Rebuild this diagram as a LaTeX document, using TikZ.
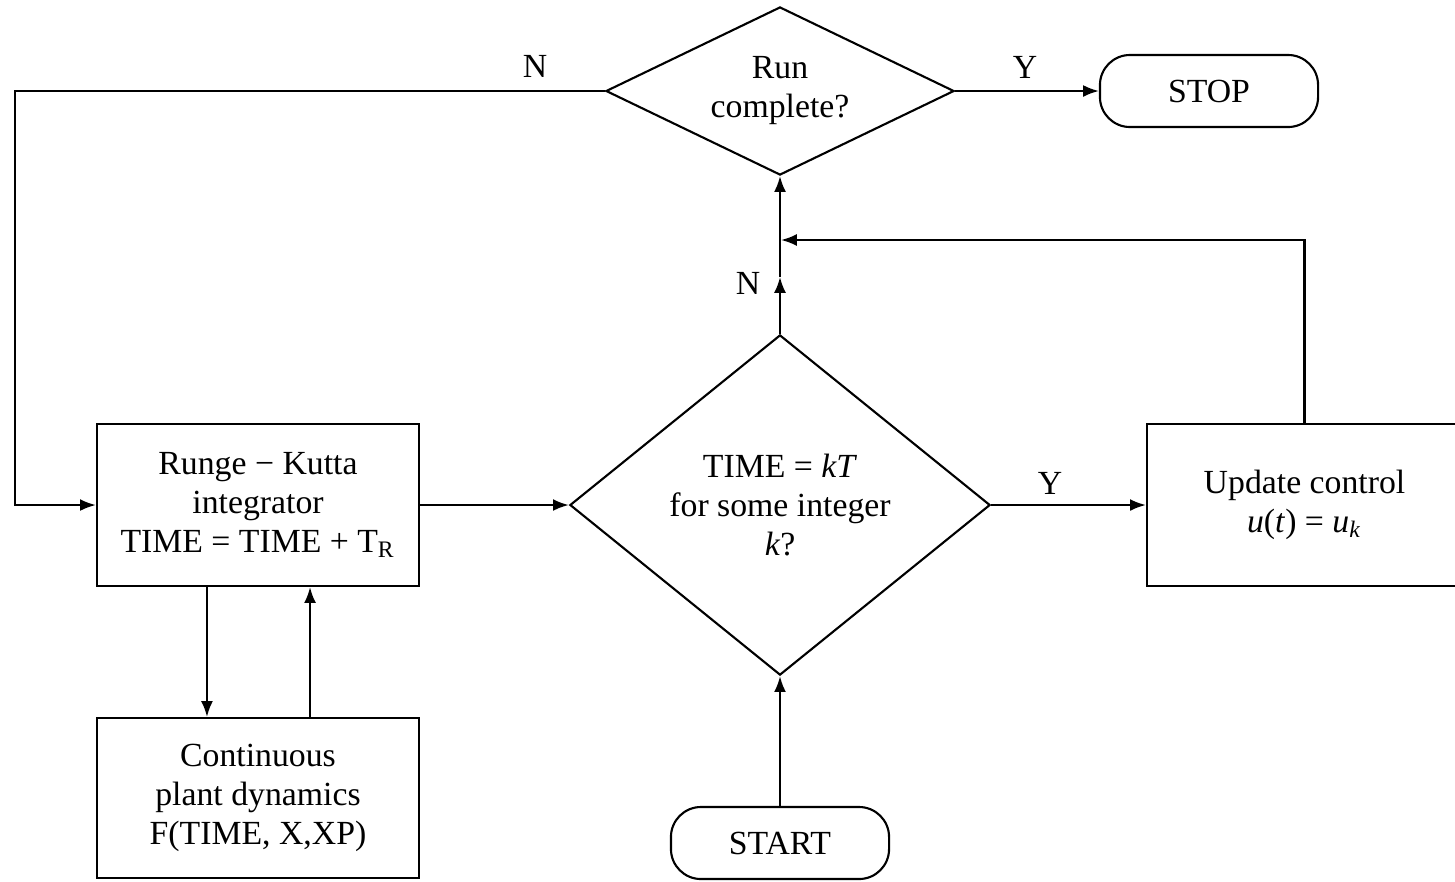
\documentclass[tikz,border=0pt]{standalone}
\usepackage{fontspec}
\setmainfont{Liberation Serif}
\usetikzlibrary{shapes.geometric,shapes.misc,arrows.meta}
\begin{document}
\begin{tikzpicture}[x=0.01cm,y=-0.01cm,
  every node/.style={font=\fontsize{9.6}{11.1}\selectfont},
  arr/.style={line width=0.6pt, -{Latex[length=4.5pt,width=3.4pt]}},
  box/.style={draw,line width=0.6pt,rectangle,inner sep=0pt,align=center},
  term/.style={draw,line width=0.6pt,rectangle,rounded corners=0.3cm,
               inner sep=0pt, minimum width=2.18cm, minimum height=0.72cm},
  dec/.style={draw,line width=0.6pt,diamond,inner sep=0pt,align=center},
  lbl/.style={inner sep=0pt}]
\useasboundingbox (0,0) rectangle (1455,881);
\clip (0,0) rectangle (1455,881);

\node[dec, minimum width=3.48cm, minimum height=1.68cm, aspect=2.07] (d1) at (780,91) {Run\\complete?};
\node[term] (stop) at (1209,91) {STOP};
\node[box, minimum width=3.22cm, minimum height=1.62cm] (rk) at (258,505)
  {Runge − Kutta\\integrator\\TIME = TIME + T\textsubscript{R}};
\node[dec, minimum width=4.2cm, minimum height=3.4cm, aspect=1.24] (d2) at (780,505)
  {TIME = \textit{kT}\\for some integer\\\textit{k}?};
\node[box, minimum width=3.15cm, minimum height=1.62cm] (upd) at (1304.5,505)
  {Update control\\\textit{u}(\textit{t}) = \textit{u}\textsubscript{\textit{k}}};
\node[box, minimum width=3.22cm, minimum height=1.60cm] (plant) at (258,798)
  {Continuous\\plant dynamics\\F(TIME, X,XP)};
\node[term] (start) at (780,843) {START};

\coordinate (lx) at (15,505);
\coordinate (mid) at (780,277);
\coordinate (mrg) at (781,240);

\draw[arr] (d1.west) -| (lx) -- (rk.west);
\draw[arr] (d1.east) -- (stop.west);
\draw[arr] (rk.east) -- (d2.west);
\draw[arr] (d2.east) -- (upd.west);
\draw[arr] (d2.north) -- (mid);
\draw[arr] (mid) -- (d1.south);
\draw[arr] (upd.north) |- (mrg);
\draw[arr] (start.north) -- (d2.south);
\draw[arr] ([xshift=-0.51cm]rk.south) -- ([xshift=-0.51cm]plant.north);
\draw[arr] ([xshift=0.52cm]plant.north) -- ([xshift=0.52cm]rk.south);

\node[lbl] at (535,66) {N};
\node[lbl] at (1025,67) {Y};
\node[lbl] at (748,283) {N};
\node[lbl] at (1050,483) {Y};
\end{tikzpicture}
\end{document}
